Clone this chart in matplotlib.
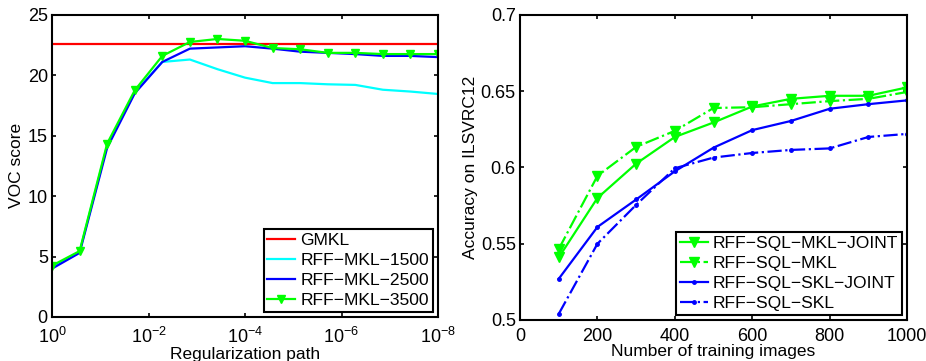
import numpy as np
import matplotlib
matplotlib.use("Agg")
import matplotlib.pyplot as plt

plt.rcParams["font.family"] = ["Liberation Sans", "DejaVu Sans"]
plt.rcParams["mathtext.fontset"] = "custom"
plt.rcParams["mathtext.rm"] = "Liberation Sans"
plt.rcParams["mathtext.it"] = "Liberation Sans"

# left panel: regularization path (15 steps from 1e0 to 1e-8)
reg_path = 10.0 ** (-8 * np.arange(15) / 14)
gmkl = 22.6
mkl_1500 = [4.1, 5.4, 14.2, 18.6, 21.1, 21.3, 20.5, 19.8, 19.35, 19.35, 19.25, 19.2, 18.8, 18.65, 18.45]
mkl_2500 = [4.0, 5.3, 14.0, 18.5, 21.1, 22.2, 22.3, 22.4, 22.2, 21.95, 21.85, 21.75, 21.6, 21.6, 21.5]
mkl_3500 = [4.25, 5.45, 14.35, 18.75, 21.6, 22.75, 23.0, 22.85, 22.25, 22.15, 21.85, 21.85, 21.75, 21.75, 21.75]

# right panel: number of training images
n_train = [100, 200, 300, 400, 500, 600, 700, 800, 900, 1000]
mkl_joint = [0.541, 0.580, 0.6025, 0.620, 0.6295, 0.640, 0.645, 0.647, 0.647, 0.6525]
mkl_sep = [0.5465, 0.5945, 0.6135, 0.624, 0.639, 0.6395, 0.6415, 0.6435, 0.645, 0.6495]
skl_joint = [0.527, 0.561, 0.579, 0.5975, 0.613, 0.6245, 0.6305, 0.6385, 0.6415, 0.644]
skl_sep = [0.504, 0.550, 0.5755, 0.5995, 0.6065, 0.6095, 0.6115, 0.6125, 0.620, 0.622]

fig = plt.figure(figsize=(9.26, 3.61), dpi=100)
ax1 = fig.add_axes([0.0562, 0.122, 0.4168, 0.837])
ax2 = fig.add_axes([0.5616, 0.1136, 0.418, 0.845])

green = "#00ff00"
lw = 1.6
leg_kw = dict(loc="lower right", fontsize=12.6, fancybox=False, edgecolor="black",
              framealpha=1, borderpad=0.2, labelspacing=0.28, handlelength=1.6,
              handletextpad=0.3, borderaxespad=0.3)

ax1.axhline(gmkl, color="red", lw=lw, label="GMKL")
ax1.plot(reg_path, mkl_1500, color="cyan", lw=lw, label="RFF\u2212MKL\u22121500")
ax1.plot(reg_path, mkl_2500, color="blue", lw=lw, label="RFF\u2212MKL\u22122500")
ax1.plot(reg_path, mkl_3500, color=green, lw=lw, marker="v", ms=6,
         label="RFF\u2212MKL\u22123500")
ax1.set_xscale("log")
ax1.set_xlim(1, 1e-8)
ax1.set_ylim(0, 25)
ax1.set_xticks([1, 1e-2, 1e-4, 1e-6, 1e-8])
ax1.set_xticklabels(["$10^{0}$", "$10^{-2}$", "$10^{-4}$", "$10^{-6}$", "$10^{-8}$"])
ax1.xaxis.set_minor_locator(matplotlib.ticker.NullLocator())
ax1.set_yticks([0, 5, 10, 15, 20, 25])
ax1.set_xlabel("Regularization path", fontsize=12.5, labelpad=0)
ax1.set_ylabel("VOC score", fontsize=12.5, labelpad=3)
ax1.legend(**leg_kw)

ax2.plot(n_train, mkl_joint, color=green, lw=lw, marker="v", ms=7,
         label="RFF\u2212SQL\u2212MKL\u2212JOINT")
ax2.plot(n_train, mkl_sep, color=green, lw=lw, ls="-.", marker="v", ms=7,
         label="RFF\u2212SQL\u2212MKL")
ax2.plot(n_train, skl_joint, color="blue", lw=lw, marker=".", ms=5,
         label="RFF\u2212SQL\u2212SKL\u2212JOINT")
ax2.plot(n_train, skl_sep, color="blue", lw=lw, ls="-.", marker=".", ms=5,
         label="RFF\u2212SQL\u2212SKL")
ax2.set_xlim(0, 1000)
ax2.set_ylim(0.5, 0.7)
ax2.set_xticks([0, 200, 400, 600, 800, 1000])
ax2.set_yticks([0.5, 0.55, 0.6, 0.65, 0.7])
ax2.set_yticklabels(["0.5", "0.55", "0.6", "0.65", "0.7"])
ax2.set_xlabel("Number of training images", fontsize=12.5, labelpad=-1)
ax2.set_ylabel("Accuracy on ILSVRC12", fontsize=12.5, labelpad=2)
ax2.legend(**leg_kw)

for ax in (ax1, ax2):
    ax.tick_params(direction="in", top=True, right=True, length=3, width=1.2,
                   labelsize=13)
    ax.tick_params(axis="x", pad=6)
    ax.tick_params(axis="y", pad=3)
    for s in ax.spines.values():
        s.set_linewidth(1.5)
    ax.get_legend().get_frame().set_linewidth(1.5)
ax1.tick_params(axis="x", pad=7)

fig.savefig("out.png", dpi=100)
